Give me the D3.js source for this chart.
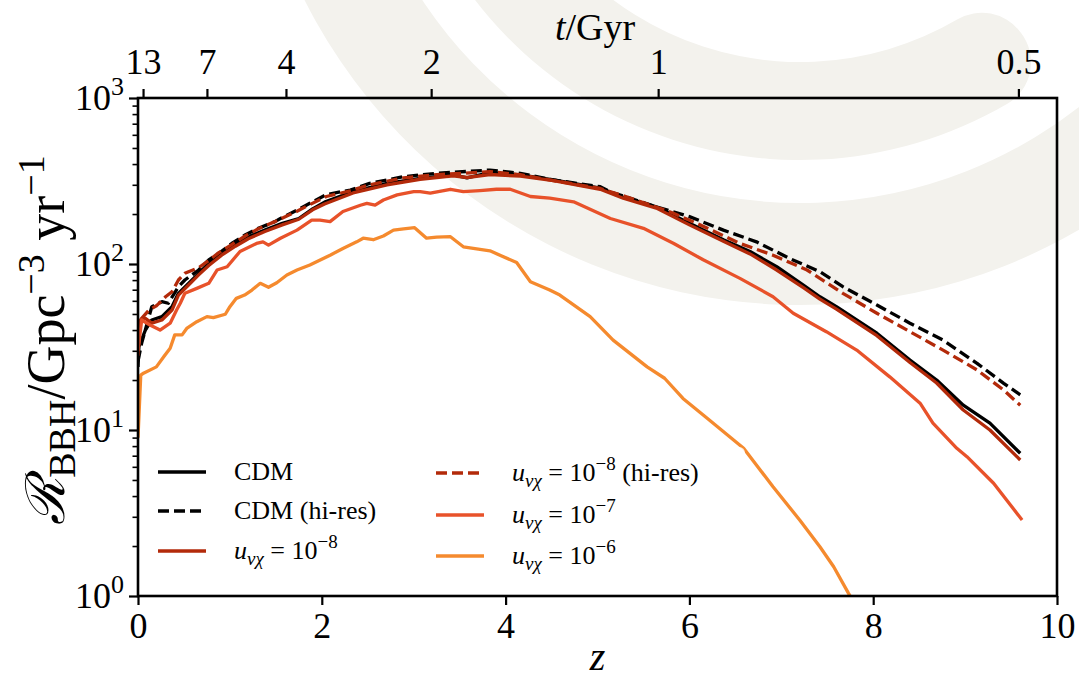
<!DOCTYPE html>
<html>
<head>
<meta charset="utf-8">
<script src="https://cdn.jsdelivr.net/npm/d3@7"></script>
<style>
  body { margin: 0; background: #fff; }
  text { font-family: "Liberation Serif", "DejaVu Serif", serif; fill: #000; }
</style>
</head>
<body>
<svg id="chart" width="1079" height="684"></svg>
<script>
// [z, R_BBH] pairs
const cdm = [[0, 24], [0.01, 31.8], [0.08, 40], [0.15, 46], [0.26, 48.2], [0.37, 55.3], [0.44, 66.6], [0.55, 76.5],
  [0.66, 87.9], [0.77, 101], [0.91, 116], [1.06, 133], [1.2, 146], [1.38, 160], [1.57, 176], [1.75, 188], [1.9, 215],
  [2.03, 236], [2.34, 273], [2.71, 306], [3.07, 328], [3.43, 344], [3.58, 330], [3.83, 355], [4.16, 344], [4.52, 321],
  [5.03, 286], [5.28, 252], [5.64, 221], [6.0, 176], [6.37, 140], [6.66, 119], [6.95, 96.3], [7.24, 74.7], [7.42, 63.5],
  [7.6, 55.3], [8.04, 38.3], [8.4, 26.4], [8.69, 20.0], [8.98, 14.1], [9.27, 11.0], [9.6, 7.24]];

const cdmHires = [[0, 26], [0.04, 33.4], [0.12, 48.2], [0.15, 55.3], [0.26, 59.3], [0.33, 58.0], [0.44, 73.0], [0.51, 80.1],
  [0.66, 92], [0.77, 106], [0.88, 116], [1.02, 133], [1.17, 150], [1.31, 164], [1.49, 180], [1.55, 188], [1.73, 211],
  [1.87, 232], [2.05, 262], [2.31, 279], [2.52, 306], [2.89, 336], [3.25, 352], [3.83, 368], [4.16, 352], [4.52, 321],
  [5.03, 292], [5.14, 272], [5.64, 221], [6.0, 193], [6.37, 160], [6.73, 136], [7.09, 108], [7.42, 89.9], [7.67, 73],
  [8.04, 56.6], [8.4, 44], [8.76, 34.8], [9.13, 25.2], [9.42, 19.1], [9.6, 16.3]];

const u8 = [[0, 28], [0.02, 46], [0.08, 47], [0.15, 44], [0.26, 46], [0.37, 52.8], [0.44, 65], [0.55, 74.7], [0.66, 86],
  [0.77, 98], [0.91, 113], [1.06, 128], [1.2, 142], [1.38, 157], [1.57, 172], [1.75, 186], [1.9, 212], [2.03, 230],
  [2.34, 268], [2.71, 300], [3.07, 324], [3.43, 340], [3.58, 332], [3.83, 346], [4.16, 338], [4.52, 318], [5.03, 282],
  [5.28, 249], [5.64, 217], [6.0, 172], [6.37, 137], [6.66, 115], [6.95, 92], [7.24, 72], [7.42, 61.5], [7.6, 53.5],
  [8.04, 37], [8.4, 25.5], [8.69, 19.2], [8.98, 13.2], [9.27, 10.0], [9.6, 6.6]];

const u8Hires = [[0, 30], [0.025, 46], [0.12, 52.8], [0.2, 56], [0.3, 63.5], [0.37, 68.1], [0.44, 80.1], [0.51, 87.9],
  [0.66, 95], [0.77, 105], [0.88, 117], [1.02, 131], [1.17, 148], [1.31, 163], [1.49, 180], [1.73, 208], [1.87, 228],
  [2.05, 255], [2.31, 276], [2.52, 300], [2.89, 330], [3.25, 345], [3.83, 360], [4.16, 345], [4.52, 318], [5.03, 285],
  [5.4, 245], [5.82, 203], [6.19, 165], [6.55, 133], [6.91, 113], [7.28, 92], [7.42, 82], [7.67, 66.6], [8.04, 50.5],
  [8.4, 39.1], [8.76, 30.3], [9.13, 23.0], [9.42, 17.4], [9.6, 14.1]];

const u7 = [[0, 30], [0.04, 46], [0.13, 42.9], [0.24, 40], [0.35, 44], [0.42, 52.8], [0.46, 58], [0.51, 66.6], [0.64, 71.3],
  [0.77, 76.5], [0.86, 92], [0.97, 96.3], [1.11, 119], [1.29, 133], [1.36, 136], [1.42, 130], [1.55, 143], [1.73, 160],
  [1.89, 184], [1.98, 184], [2.09, 180], [2.23, 207], [2.42, 226], [2.49, 232], [2.58, 226], [2.67, 243], [2.82, 261],
  [3.0, 273], [3.07, 273], [3.18, 267], [3.4, 282], [3.54, 273], [3.72, 277], [3.9, 282], [4.05, 282], [4.27, 255],
  [4.48, 249], [4.74, 237], [5.14, 188], [5.5, 164], [5.83, 133], [6.15, 106], [6.55, 81.9], [6.91, 63.5], [7.13, 50.5],
  [7.49, 39.1], [7.82, 30.3], [8.18, 20.9], [8.51, 14.5], [8.65, 11.0], [8.91, 7.76], [9.02, 6.91], [9.31, 4.78], [9.62, 2.87]];

const u6 = [[0, 9], [0.03, 21.4], [0.06, 22], [0.2, 24], [0.28, 27.6], [0.35, 31.1], [0.4, 37.4], [0.48, 37.4], [0.53, 40.9],
  [0.64, 44.9], [0.75, 48.2], [0.82, 47.5], [0.95, 49.8], [1.0, 55.3], [1.07, 62.1], [1.16, 65], [1.24, 69.7], [1.33, 76.5],
  [1.42, 72.4], [1.51, 77.1], [1.62, 85.9], [1.73, 92], [1.87, 98.6], [2.09, 113], [2.23, 124], [2.38, 136], [2.45, 143],
  [2.56, 140], [2.67, 147.5], [2.78, 160], [2.89, 163], [3.01, 165.5], [3.14, 143], [3.25, 145], [3.4, 146], [3.54, 127],
  [3.83, 120], [4.12, 102], [4.27, 78.2], [4.48, 69.7], [4.59, 65], [4.92, 48.2], [5.17, 34.8], [5.54, 24], [5.73, 20.5],
  [5.93, 15.5], [6.19, 11.8], [6.59, 7.76], [6.91, 4.55], [7.2, 2.87], [7.42, 1.98], [7.57, 1.5], [7.73, 1.04], [7.8, 0.9]];

const zTicks = [0, 2, 4, 6, 8, 10];
const rTicks = [1, 10, 100, 1000];
const rExp = ["0", "1", "2", "3"];
const ageLabels = ["13", "7", "4", "2", "1", "0.5"];
const ageTickZ = [0.055, 0.75, 1.61, 3.19, 5.66, 9.58];

const series = [
  { data: cdm, color: "#000000", dash: null, label: "CDM", col: 0, row: 0 },
  { data: cdmHires, color: "#000000", dash: "11,5", label: "CDM (hi-res)", col: 0, row: 1 },
  { data: u8, color: "#b32a0a", dash: null, exp: "−8", col: 0, row: 2 },
  { data: u8Hires, color: "#b32a0a", dash: "11,5", exp: "−8", hires: true, col: 1, row: 0 },
  { data: u7, color: "#e8522a", dash: null, exp: "−7", col: 1, row: 1 },
  { data: u6, color: "#f58a2e", dash: null, exp: "−6", col: 1, row: 2 }
];

const serif = "Liberation Serif";
const svg = d3.select("#chart").attr("font-family", serif);
const mLeft = 138, mRight = 1057, mTop = 98, mBottom = 596;

// faint watermark arcs in the background
const wm = svg.append("g").attr("transform", "translate(800,-250)");
const deg = Math.PI / 180;
wm.append("path")
  .attr("d", d3.arc()({ innerRadius: 453, outerRadius: 555, startAngle: 110 * deg, endAngle: 265 * deg }))
  .attr("fill", "#f3f2ed");
wm.append("path")
  .attr("d", d3.arc().cornerRadius(48)({ innerRadius: 312, outerRadius: 410, startAngle: 142 * deg, endAngle: 268 * deg }))
  .attr("fill", "#f3f2ed");

const x = d3.scaleLinear().domain([0, 10]).range([mLeft, mRight]);
const y = d3.scaleLog().domain([1, 1000]).range([mBottom, mTop]);

svg.append("clipPath").attr("id", "clip")
  .append("rect").attr("x", mLeft).attr("y", mTop).attr("width", mRight - mLeft).attr("height", mBottom - mTop);

const line = d3.line().x(d => x(d[0])).y(d => y(d[1]));

svg.append("g").attr("clip-path", "url(#clip)")
  .selectAll("path")
  .data(series)
  .join("path")
  .attr("d", d => line(d.data))
  .attr("fill", "none")
  .attr("stroke", d => d.color)
  .attr("stroke-width", 3.3)
  .attr("stroke-linejoin", "round")
  .attr("stroke-dasharray", d => d.dash);

// bottom axis
const xAxis = svg.append("g")
  .attr("transform", `translate(0,${mBottom})`)
  .call(d3.axisBottom(x).tickValues(zTicks).tickSize(9).tickFormat(d3.format("d")))
  .attr("font-family", serif);
xAxis.select(".domain").remove();
xAxis.selectAll("line").attr("stroke-width", 2.2);
xAxis.selectAll("text").attr("font-size", 36).attr("y", 15).attr("dy", "0.75em");

// top axis (age of the universe)
const tAxis = svg.append("g")
  .attr("transform", `translate(0,${mTop})`)
  .call(d3.axisTop(x).tickValues(ageTickZ).tickSize(9).tickFormat((d, i) => ageLabels[i]))
  .attr("font-family", serif);
tAxis.select(".domain").remove();
tAxis.selectAll("line").attr("stroke-width", 2.2);
tAxis.selectAll("text").attr("font-size", 36).attr("y", -24).attr("dy", 0);

// left log axis with minor ticks
const minor = [];
for (let k = 0; k < 3; k++) for (let m = 2; m < 10; m++) minor.push(m * Math.pow(10, k));
const yMinor = svg.append("g").attr("transform", `translate(${mLeft},0)`)
  .call(d3.axisLeft(y).tickValues(minor).tickSize(5.5).tickFormat(""));
yMinor.select(".domain").remove();
yMinor.selectAll("line").attr("stroke-width", 1.6);

const yAxis = svg.append("g").attr("transform", `translate(${mLeft},0)`)
  .call(d3.axisLeft(y).tickValues(rTicks).tickSize(9).tickFormat(""));
yAxis.select(".domain").remove();
yAxis.selectAll("line").attr("stroke-width", 2.2);

const yLab = svg.append("g").selectAll("text").data(rTicks).join("text")
  .attr("x", mLeft - 14)
  .attr("y", d => y(d) + 12)
  .attr("text-anchor", "end")
  .attr("font-family", serif)
  .attr("font-size", 36);
yLab.append("tspan").text("10");
yLab.append("tspan").attr("dy", -15).attr("font-size", 26).text((d, i) => rExp[i]);

// frame
svg.append("rect")
  .attr("x", mLeft).attr("y", mTop).attr("width", mRight - mLeft).attr("height", mBottom - mTop)
  .attr("fill", "none").attr("stroke", "#000").attr("stroke-width", 2.6);

// axis titles
svg.append("text").attr("x", (mLeft + mRight) / 2).attr("y", 670).attr("text-anchor", "middle")
  .attr("font-family", serif).attr("font-size", 40).attr("font-style", "italic").text("z");

const tTitle = svg.append("text").attr("x", 595).attr("y", 40).attr("text-anchor", "middle")
  .attr("font-family", serif).attr("font-size", 38);
tTitle.append("tspan").attr("font-style", "italic").text("t");
tTitle.append("tspan").text("/Gyr");

const yTitle = svg.append("text")
  .attr("transform", "translate(64,340) rotate(-90)")
  .attr("text-anchor", "middle").attr("font-family", serif).attr("font-size", 54);
yTitle.append("tspan").attr("font-family", "DejaVu Serif").attr("font-style", "italic").text("ℛ");
yTitle.append("tspan").attr("font-size", 38).attr("dy", 11).text("BBH");
yTitle.append("tspan").attr("dy", -11).text("/Gpc");
yTitle.append("tspan").attr("font-size", 38).attr("dy", -20).text("−3");
yTitle.append("tspan").attr("dy", 20).text(" yr");
yTitle.append("tspan").attr("font-size", 38).attr("dy", -20).text("−1");

// legend
const legend = svg.append("g");
legend.append("rect").attr("x", 148).attr("y", 447).attr("width", 597).attr("height", 138)
  .attr("rx", 6).attr("fill", "#fff").attr("fill-opacity", 0.85);

const colX = [158, 436];
const rowY = [[472, 511, 551], [473, 515, 556]];
const items = legend.selectAll("g.item").data(series).join("g").attr("class", "item")
  .attr("transform", d => `translate(${colX[d.col]},${rowY[d.col][d.row]})`);
items.append("line").attr("x1", 0).attr("x2", 48).attr("y1", 0).attr("y2", 0)
  .attr("stroke", d => d.color).attr("stroke-width", 3.3).attr("stroke-dasharray", d => d.dash);
items.each(function (d) {
  const t = d3.select(this).append("text").attr("x", 76).attr("y", 8)
    .attr("font-family", serif).attr("font-size", 26);
  if (d.label) {
    t.text(d.label);
  } else {
    t.append("tspan").attr("font-style", "italic").text("u");
    t.append("tspan").attr("font-style", "italic").attr("font-size", 19).attr("dy", 6).text("νχ");
    t.append("tspan").attr("dy", -6).text(" = 10");
    t.append("tspan").attr("font-size", 19).attr("dy", -11).text(d.exp);
    if (d.hires) t.append("tspan").attr("dy", 11).text(" (hi-res)");
  }
});
</script>
</body>
</html>
